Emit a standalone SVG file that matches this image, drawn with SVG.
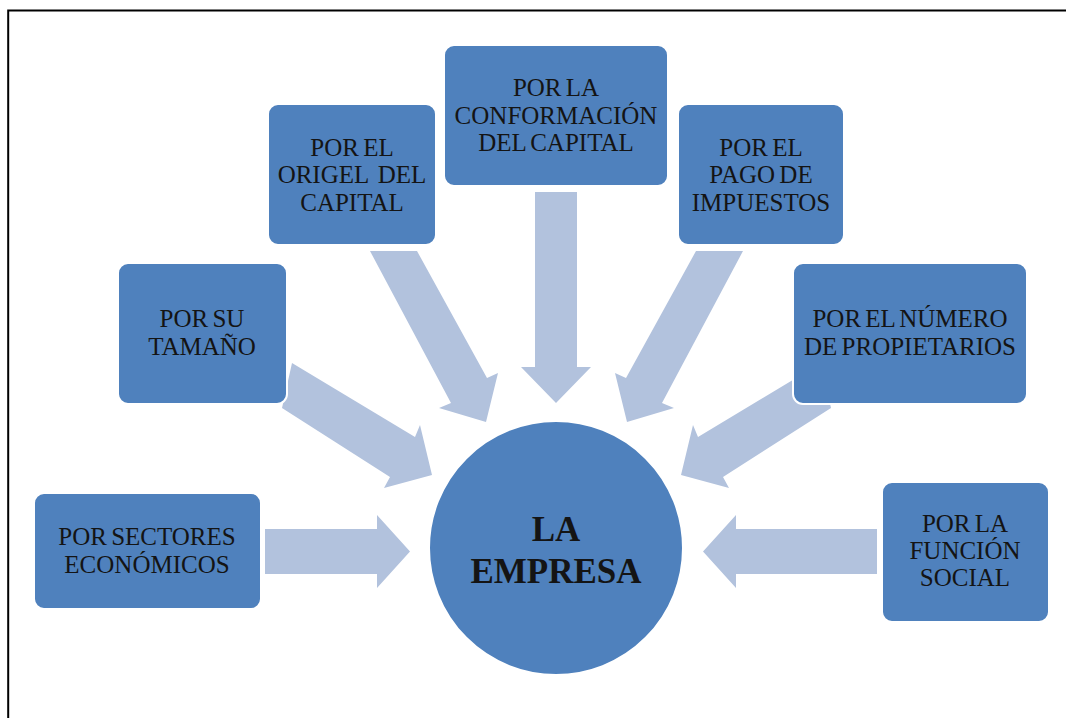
<svg xmlns="http://www.w3.org/2000/svg" width="1066" height="718" viewBox="0 0 1066 718">
<style>
.box{fill:#4F81BD;stroke:#FFFFFF;stroke-width:2}
.arr{fill:#B2C2DD}
.t{font-family:"Liberation Serif","Times New Roman",serif;font-size:25px;fill:#141414;text-anchor:middle;word-spacing:-2px}
.big{font-family:"Liberation Serif","Times New Roman",serif;font-size:35px;font-weight:bold;fill:#141414;text-anchor:middle}
</style>
<rect width="1066" height="718" fill="#FFFFFF"/>
<path d="M8.2,718 V10.5 H1066" fill="none" stroke="#000000" stroke-width="2"/>
<g id="connectors">
<polygon class="arr" points="265,529 377,529 377,515 410,551.5 377,588 377,574 265,574"/>
<polygon class="arr" points="877,529 736,529 736,515 703,551.5 736,588 736,574 877,574"/>
<polygon class="arr" points="535,192 577,192 577,367 591,367 556,403 521,367 535,367"/>
<polygon class="arr" points="370,251 417,251 487,378 498,373 486,422 439,408 451,403"/>
<polygon class="arr" points="743,251 696,251 626,378 615,373 627,422 674,408 662,403"/>
<polygon class="arr" points="292,363 415,437 420,425 432,475 384,488 390,477 282,408"/>
<polygon class="arr" points="821,363 698,437 693,425 681,475 729,488 723,477 831,408"/>
</g>
<g id="node-sectores">
<rect class="box" x="34" y="493" width="227" height="116" rx="10"/>
<text class="t" x="147" y="545">POR SECTORES</text>
<text class="t" x="147" y="573">ECONÓMICOS</text>
</g>
<g id="node-tamano">
<rect class="box" x="118" y="263" width="169" height="141" rx="10"/>
<text class="t" x="202" y="327">POR SU</text>
<text class="t" x="202" y="355">TAMAÑO</text>
</g>
<g id="node-origen">
<rect class="box" x="268" y="104" width="168" height="141" rx="10"/>
<text class="t" x="352" y="155.5">POR EL</text>
<text class="t" x="352" y="183">ORIGEL&#160; DEL</text>
<text class="t" x="352" y="210.5">CAPITAL</text>
</g>
<g id="node-conformacion">
<rect class="box" x="444" y="45" width="224" height="141" rx="10"/>
<text class="t" x="556" y="96">POR LA</text>
<text class="t" x="556" y="123.5">CONFORMACIÓN</text>
<text class="t" x="556" y="151">DEL CAPITAL</text>
</g>
<g id="node-impuestos">
<rect class="box" x="678" y="104" width="166" height="141" rx="10"/>
<text class="t" x="761" y="155.5">POR EL</text>
<text class="t" x="761" y="183">PAGO DE</text>
<text class="t" x="761" y="210.5">IMPUESTOS</text>
</g>
<g id="node-propietarios">
<rect class="box" x="793" y="263" width="234" height="141" rx="10"/>
<text class="t" x="910" y="327">POR EL NÚMERO</text>
<text class="t" x="910" y="355">DE PROPIETARIOS</text>
</g>
<g id="node-funcion">
<rect class="box" x="882" y="482" width="167" height="140" rx="10"/>
<text class="t" x="965" y="531.5">POR LA</text>
<text class="t" x="965" y="558.5">FUNCIÓN</text>
<text class="t" x="965" y="586">SOCIAL</text>
</g>
<g id="node-empresa">
<circle cx="556" cy="548" r="127" fill="#4F81BD" stroke="#FFFFFF" stroke-width="2"/>
<text class="big" x="556" y="541">LA</text>
<text class="big" x="556" y="583">EMPRESA</text>
</g>
</svg>
